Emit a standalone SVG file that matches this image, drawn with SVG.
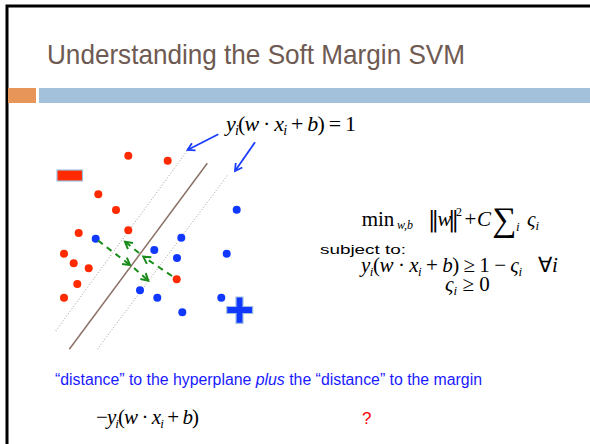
<svg xmlns="http://www.w3.org/2000/svg" width="590" height="444" viewBox="0 0 590 444">
<defs>
<style>
.title{font-family:"Liberation Sans",Arial,sans-serif;font-size:28px;fill:#6e5a52}
.m{font-family:"Liberation Serif","Times New Roman",serif;fill:#000}
.it{font-style:italic}
.sans{font-family:"Liberation Sans",Arial,sans-serif}
.red{fill:#ff2a00}
.blue{fill:#1038ff}
.dot{fill:none;stroke:#a89a96;stroke-width:1;stroke-dasharray:1,2}
.green{fill:none;stroke:#1a8c1a;stroke-width:2;stroke-dasharray:6,5;marker-end:url(#ga)}
.barrow{fill:none;stroke:#1a3cff;stroke-width:1.8;marker-end:url(#ba)}
</style>
<marker id="ga" markerUnits="userSpaceOnUse" markerWidth="12" markerHeight="12" refX="8" refY="5" orient="auto">
<path d="M1,1 L8,5 L1,9" fill="none" stroke="#1a8c1a" stroke-width="2"/>
</marker>
<marker id="ba" markerUnits="userSpaceOnUse" markerWidth="12" markerHeight="12" refX="8" refY="5" orient="auto">
<path d="M1,1 L8,5 L1,9" fill="none" stroke="#1a3cff" stroke-width="1.8"/>
</marker>
</defs>
<rect width="590" height="444" fill="#fff"/>
<g id="frame">
<path d="M7,444 L7,6 L590,6" fill="none" stroke="#000" stroke-width="3"/>
</g>
<g id="header">
<text class="title" x="47" y="64" textLength="418" lengthAdjust="spacingAndGlyphs">Understanding the Soft Margin SVM</text>
<rect x="8" y="88" width="28" height="15" fill="#e8955a"/>
<rect x="39" y="88" width="551" height="15" fill="#a3c1da"/>
</g>
<g id="lines">
<line class="dot" x1="55.7" y1="331" x2="187.7" y2="150"/>
<line class="dot" x1="97.3" y1="349.3" x2="227.7" y2="175"/>
<line x1="69.3" y1="349.3" x2="207.3" y2="163.3" stroke="#8b7166" stroke-width="1.5"/>
</g>
<g id="points">
<g class="red">
<circle cx="128.3" cy="155.7" r="4"/>
<circle cx="167.7" cy="160.7" r="4"/>
<circle cx="98.3" cy="194.3" r="4"/>
<circle cx="116" cy="210" r="4"/>
<circle cx="128.3" cy="230.3" r="4"/>
<circle cx="78.7" cy="233" r="4"/>
<circle cx="64" cy="253.7" r="4"/>
<circle cx="73.7" cy="263.3" r="4"/>
<circle cx="88.7" cy="268.3" r="4"/>
<circle cx="77.3" cy="284" r="4"/>
<circle cx="64" cy="297.7" r="4"/>
<circle cx="176.7" cy="279.3" r="4"/>
</g>
<g class="blue">
<circle cx="236.7" cy="209.7" r="4"/>
<circle cx="95.7" cy="238.7" r="4"/>
<circle cx="181.3" cy="237.7" r="4"/>
<circle cx="154.3" cy="250" r="4"/>
<circle cx="177" cy="258" r="4"/>
<circle cx="226.7" cy="253.7" r="4"/>
<circle cx="140" cy="290.3" r="4"/>
<circle cx="157.3" cy="297.7" r="4"/>
<circle cx="221.3" cy="297.7" r="4"/>
<circle cx="182.3" cy="312.3" r="4"/>
</g>
</g>
<g id="minus">
<rect x="57" y="170" width="25.5" height="11" fill="#ff2a00" stroke="#9ec0e0" stroke-width="1.2"/>
</g>
<g id="plus">
<path d="M236,297 H243 V306.5 H252.7 V313.5 H243 V323.3 H236 V313.5 H226.7 V306.5 H236 Z" fill="#1038ff" stroke="#9ec0e0" stroke-width="1.2"/>
</g>
<g id="connectors">
<line class="green" x1="98" y1="240.5" x2="130" y2="265"/>
<line class="green" x1="134" y1="268" x2="148.3" y2="280.7"/>
<line class="green" x1="172" y1="276" x2="143.3" y2="256.7"/>
<line class="green" x1="139" y1="253" x2="125" y2="241.7"/>
<line class="barrow" x1="218.3" y1="134.3" x2="187.5" y2="150"/>
<line class="barrow" x1="255" y1="142.3" x2="235" y2="171"/>
</g>
<g id="margin-label">
<text class="m" x="226" y="131" font-size="22" textLength="130" lengthAdjust="spacing"><tspan class="it">y</tspan><tspan class="it" font-size="14" dy="4">i</tspan><tspan dy="-4">(</tspan><tspan class="it">w</tspan><tspan> · </tspan><tspan class="it">x</tspan><tspan class="it" font-size="14" dy="4">i</tspan><tspan dy="-4"> + </tspan><tspan class="it">b</tspan><tspan>) = 1</tspan></text>
</g>
<g id="objective">
<text class="m" x="361.7" y="226" font-size="21">min</text>
<text class="m it" x="397" y="229" font-size="12">w,b</text>
<text x="428" y="227" font-size="22" font-family="'DejaVu Serif',serif">‖</text>
<text class="m it" x="437.5" y="226" font-size="21">w</text>
<text x="448" y="227" font-size="22" font-family="'DejaVu Serif',serif">‖</text>
<text class="m" x="456" y="216" font-size="12">2</text>
<text class="m" x="464.5" y="226" font-size="21">+</text>
<text class="m it" x="477" y="226" font-size="21">C</text>
<text class="m" x="492" y="231" font-size="34">∑</text>
<text class="m it" x="516" y="231" font-size="13">i</text>
<text class="m it" x="527" y="226" font-size="21">ς<tspan font-size="13" dy="4">i</tspan></text>
<text class="sans" x="320" y="254" font-size="13" textLength="86" lengthAdjust="spacingAndGlyphs">subject to:</text>
<text class="m" x="361" y="272" font-size="21" textLength="161" lengthAdjust="spacing"><tspan class="it">y</tspan><tspan class="it" font-size="13" dy="4">i</tspan><tspan dy="-4">(</tspan><tspan class="it">w</tspan><tspan> · </tspan><tspan class="it">x</tspan><tspan class="it" font-size="13" dy="4">i</tspan><tspan dy="-4"> + </tspan><tspan class="it">b</tspan><tspan>) ≥ 1 − </tspan><tspan class="it">ς</tspan><tspan class="it" font-size="13" dy="4">i</tspan></text>
<text class="m" x="538" y="272" font-size="21">∀<tspan class="it">i</tspan></text>
<text class="m" x="445" y="291" font-size="21"><tspan class="it">ς</tspan><tspan class="it" font-size="13" dy="4">i</tspan><tspan dy="-4"> ≥ 0</tspan></text>
</g>
<g id="bottom">
<text class="sans" x="55" y="385" font-size="16" fill="#1a1aff" textLength="427" lengthAdjust="spacingAndGlyphs">“distance” to the hyperplane <tspan font-style="italic">plus</tspan> the “distance” to the margin</text>
<text class="m" x="96" y="424" font-size="21" textLength="103" lengthAdjust="spacing">−<tspan class="it">y</tspan><tspan class="it" font-size="13" dy="4">i</tspan><tspan dy="-4">(</tspan><tspan class="it">w</tspan><tspan> · </tspan><tspan class="it">x</tspan><tspan class="it" font-size="13" dy="4">i</tspan><tspan dy="-4"> + </tspan><tspan class="it">b</tspan><tspan>)</tspan></text>
<text class="sans" x="362" y="424" font-size="17" fill="#ff0000">?</text>
</g>
</svg>
